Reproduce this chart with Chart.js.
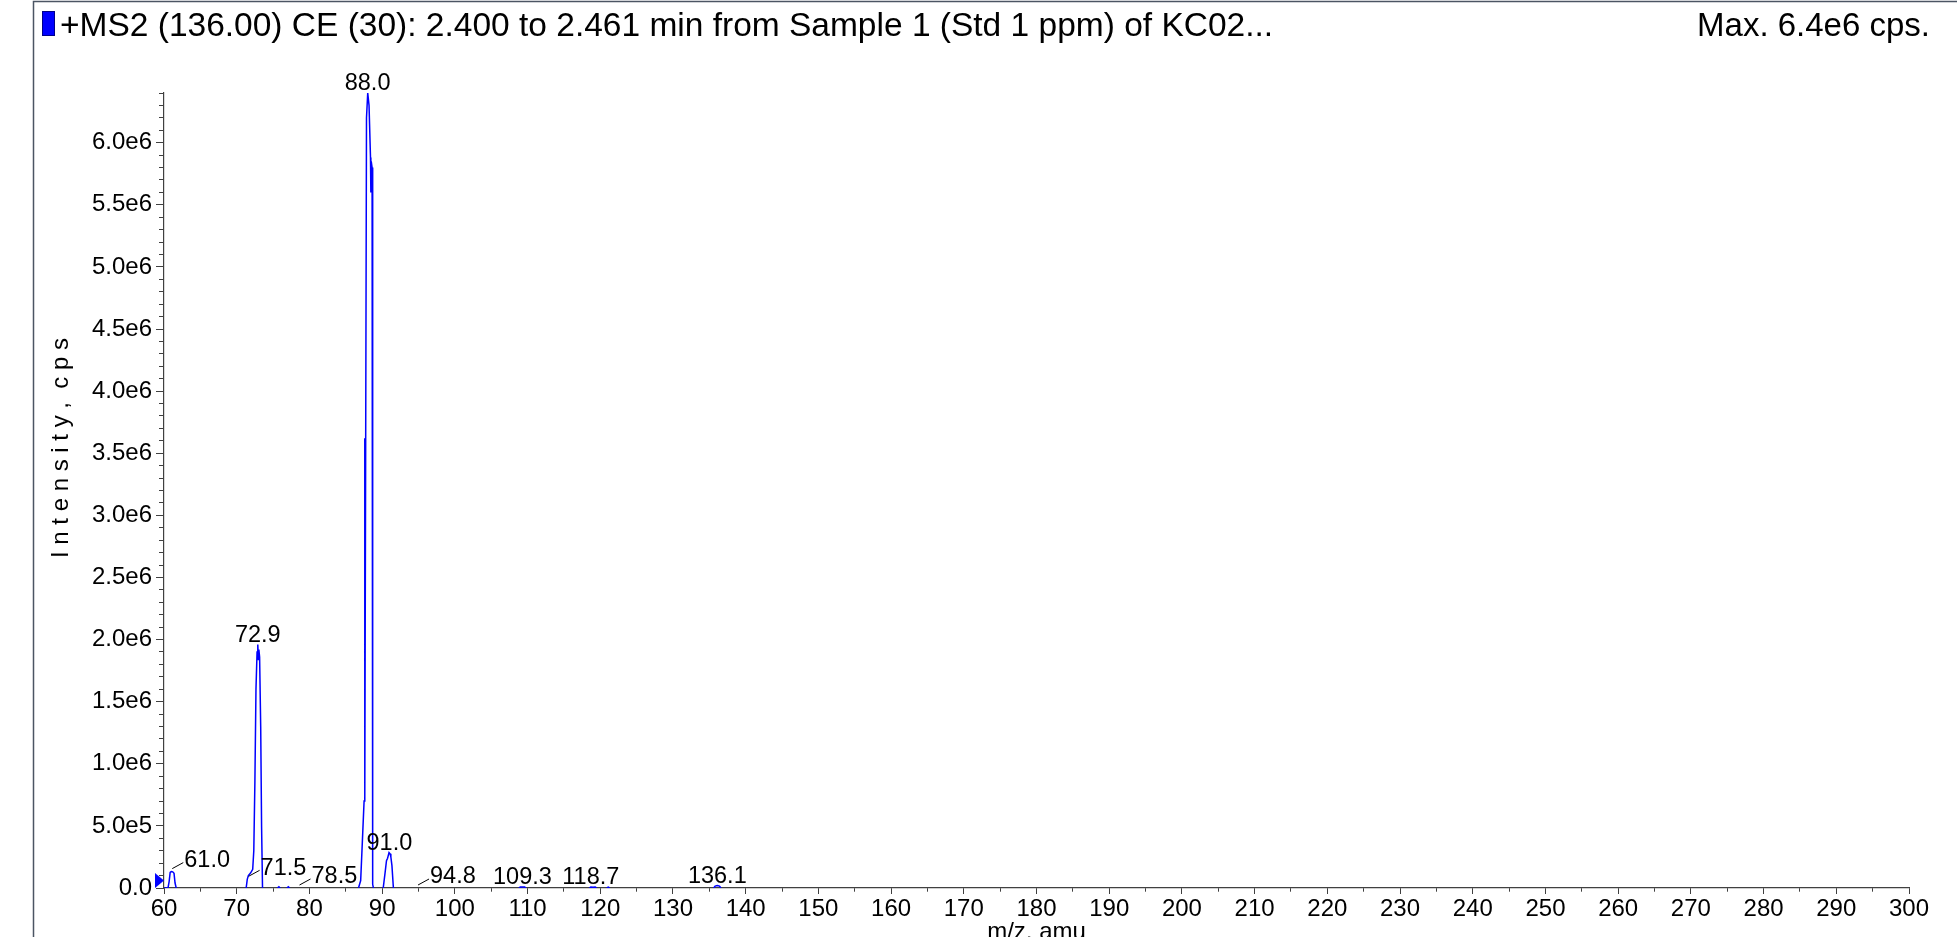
<!DOCTYPE html>
<html>
<head>
<meta charset="utf-8">
<script src="https://cdn.jsdelivr.net/npm/chart.js@4.4.1/dist/chart.umd.min.js"></script>
<style>
html,body{margin:0;padding:0;background:#fff;overflow:hidden;}
canvas{display:block;}
</style>
</head>
<body>
<canvas id="c" width="1957" height="937"></canvas>
<script>
// ---------- data ----------
const titleText = '+MS2 (136.00) CE (30): 2.400 to 2.461 min from Sample 1 (Std 1 ppm) of KC02...';
const maxText = 'Max. 6.4e6 cps.';
const xAxisTitle = 'm/z, amu';
const yAxisTitle = 'I n t e n s i t y ,  c p s';

// profile spectrum: m/z values and intensities (null = gap between peak groups)
const mz = [
  60.0, 60.55, 60.7, 60.85, 61.0, 61.2, 61.38, 61.52, 61.68,
  65.0,
  71.3, 71.45, 71.6, 71.9, 72.2, 72.35, 72.5, 72.65, 72.8, 72.9, 72.98, 73.05, 73.15, 73.3, 73.42, 73.55,
  74.5,
  75.6, 75.8, 76.0,
  76.5,
  76.9, 77.1, 77.3,
  80.0,
  86.75, 87.05, 87.33, 87.52, 87.6, 87.63, 87.85, 88.02, 88.2, 88.4, 88.45, 88.5, 88.62, 88.7, 88.8,
  89.5,
  90.15, 90.4, 90.6, 90.75, 90.95, 91.1, 91.2, 91.35, 91.55,
  100.0,
  108.8, 109.0, 109.3, 109.6, 109.8,
  114.0,
  118.5, 118.7, 119.0, 119.3, 119.5,
  120.2,
  120.9, 121.1, 121.3,
  128.0,
  135.6, 135.8, 136.1, 136.4, 136.6
];
const intensity = [
  0, 0, 50000, 125000, 132000, 130000, 118000, 40000, 0,
  null,
  0, 70000, 100000, 120000, 150000, 300000, 850000, 1600000, 1900000, 1960000, 1840000, 1920000, 1860000, 1300000, 500000, 0,
  null,
  0, 10000, 0,
  null,
  0, 10000, 0,
  null,
  0, 60000, 440000, 700000, 3620000, 720000, 6200000, 6400000, 6300000, 5880000, 5600000, 5850000, 5800000, 30000, 0,
  null,
  0, 120000, 220000, 240000, 285000, 275000, 250000, 180000, 0,
  null,
  0, 8000, 9000, 8000, 0,
  null,
  0, 8000, 6000, 7000, 0,
  null,
  0, 7000, 0,
  null,
  0, 15000, 20000, 15000, 0
];

// peak annotations
const peakLabelText = ['61.0', '71.5', '72.9', '78.5', '88.0', '91.0', '94.8', '109.3', '118.7', '136.1'];
const peakLabelMz   = [61.0, 71.5, 72.9, 78.5, 88.0, 91.0, 94.8, 109.3, 118.7, 136.1];
const peakLabelInt  = [132000, 70000, 1960000, 0, 6400000, 285000, 0, 9000, 8000, 20000];
const peakHasLeader = [true, true, false, true, false, false, true, false, false, false];

// marker (blue triangle at the start of the axis)
const markerMz = [60];
const markerInt = [60000];

// axis ranges / ticks
const xMin = 60, xMax = 300, xTickStep = 5, xLabelStep = 10;
const yMin = 0, yMax = 6400000, yTickStep = 100000, yLabelStep = 500000;

// ---------- rendering ----------
const FONT = "'Liberation Sans', Arial, Helvetica, sans-serif";
const AXIS_COLOR = '#404040';

function isXMajor(v) {
  const k = Math.round(v / xTickStep);
  return Math.abs(v / xTickStep - k) < 1e-6 && (k * xTickStep) % xLabelStep === 0;
}
function isYMajor(v) {
  const k = Math.round(v / yTickStep);
  return Math.abs(v / yTickStep - k) < 1e-6 && k % Math.round(yLabelStep / yTickStep) === 0;
}
function yLabel(v) {
  if (!isYMajor(v)) return '';
  const vr = Math.round(v / yTickStep) * yTickStep;
  if (vr === 0) return '0.0';
  const e = Math.floor(Math.log10(vr) + 1e-9);
  return (vr / Math.pow(10, e)).toFixed(1) + 'e' + e;
}

const points = mz.map((x, i) => ({x: x, y: intensity[i]}));
const markerPts = markerMz.map((x, i) => ({x: x, y: markerInt[i]}));

// triangle marker image (tip at the centre of the image)
const tri = document.createElement('canvas');
tri.width = 18; tri.height = 15;
(function () {
  const t = tri.getContext('2d');
  t.fillStyle = '#0000ff';
  t.beginPath(); t.moveTo(0, 0); t.lineTo(9, 7.5); t.lineTo(0, 15); t.closePath(); t.fill();
})();

const decor = {
  id: 'decor',
  afterDraw(chart) {
    const ctx = chart.ctx;
    const xs = chart.scales.x, ys = chart.scales.y;
    ctx.save();
    // frame
    ctx.strokeStyle = '#4b5563';
    ctx.lineWidth = 1.5;
    ctx.beginPath();
    ctx.moveTo(33.5, 937); ctx.lineTo(33.5, 1.5); ctx.lineTo(1957, 1.5);
    ctx.stroke();
    // colour box
    ctx.fillStyle = '#0000ff';
    ctx.fillRect(42, 11, 13, 25);
    ctx.strokeStyle = '#00008a'; ctx.lineWidth = 1;
    ctx.strokeRect(42.5, 11.5, 12, 24);
    // header texts
    ctx.fillStyle = '#000';
    ctx.font = '33.5px ' + FONT;
    ctx.textBaseline = 'alphabetic';
    ctx.textAlign = 'left';
    ctx.fillText(titleText, 60, 36);
    ctx.font = '33px ' + FONT;
    ctx.textAlign = 'right';
    ctx.fillText(maxText, 1930, 36);
    // axis titles
    ctx.font = '24px ' + FONT;
    ctx.textAlign = 'center';
    ctx.fillText(xAxisTitle, (xs.left + xs.right) / 2, 939);
    ctx.save();
    ctx.translate(68, 448);
    ctx.rotate(-Math.PI / 2);
    ctx.font = '24px ' + FONT;
    ctx.fillText(yAxisTitle, 0, 0);
    ctx.restore();
    // peak labels
    ctx.font = '23.5px ' + FONT;
    ctx.strokeStyle = '#000';
    ctx.lineWidth = 1;
    peakLabelText.forEach((txt, i) => {
      const px = xs.getPixelForValue(peakLabelMz[i]);
      const py = ys.getPixelForValue(peakLabelInt[i]);
      if (peakHasLeader[i]) {
        ctx.beginPath();
        ctx.moveTo(px + 1, py - 3);
        ctx.lineTo(px + 12, py - 9);
        ctx.stroke();
        ctx.textAlign = 'left';
        ctx.textBaseline = 'middle';
        ctx.fillText(txt, px + 13, py - 11);
      } else {
        ctx.textAlign = 'center';
        ctx.textBaseline = 'alphabetic';
        ctx.fillText(txt, px, py - 3);
      }
    });
    ctx.restore();
  }
};

Chart.defaults.color = '#000';
Chart.defaults.font.family = FONT;

new Chart(document.getElementById('c'), {
  type: 'line',
  data: {
    datasets: [
      {
        data: points,
        borderColor: '#0000ff',
        borderWidth: 1.5,
        pointRadius: 0,
        tension: 0,
        spanGaps: false,
        fill: false
      },
      {
        data: markerPts,
        showLine: false,
        pointStyle: tri,
        pointRadius: 6,
        clip: false
      }
    ]
  },
  options: {
    responsive: false,
    animation: false,
    events: [],
    layout: {padding: {left: 34, right: 48, top: 93, bottom: 0}},
    plugins: {legend: {display: false}, tooltip: {enabled: false}, title: {display: false}},
    scales: {
      x: {
        type: 'linear',
        position: 'bottom',
        min: xMin, max: xMax,
        afterFit: (s) => { s.height = 49; },
        grid: {
          drawOnChartArea: false,
          drawTicks: true,
          tickLength: 6,
          color: AXIS_COLOR,
          tickBorderDash: (c) => (c.tick && isXMajor(c.tick.value)) ? [] : [3.5, 100]
        },
        border: {display: true, color: AXIS_COLOR, width: 1.2},
        ticks: {
          stepSize: xTickStep,
          autoSkip: false,
          maxRotation: 0, minRotation: 0,
          padding: 1,
          color: '#000',
          font: {size: 24, family: FONT},
          callback: (v) => isXMajor(v) ? String(Math.round(v)) : ''
        }
      },
      y: {
        type: 'linear',
        position: 'left',
        min: yMin, max: yMax,
        afterFit: (s) => { s.width = 130; },
        grid: {
          drawOnChartArea: false,
          drawTicks: true,
          tickLength: 8,
          color: AXIS_COLOR,
          tickBorderDash: (c) => (c.tick && isYMajor(c.tick.value)) ? [] : [0, 3, 5, 100]
        },
        border: {display: true, color: AXIS_COLOR, width: 1.2},
        ticks: {
          stepSize: yTickStep,
          autoSkip: false,
          padding: 4,
          color: '#000',
          font: {size: 24, family: FONT},
          callback: (v) => yLabel(v)
        }
      }
    }
  },
  plugins: [decor]
});
</script>
</body>
</html>
